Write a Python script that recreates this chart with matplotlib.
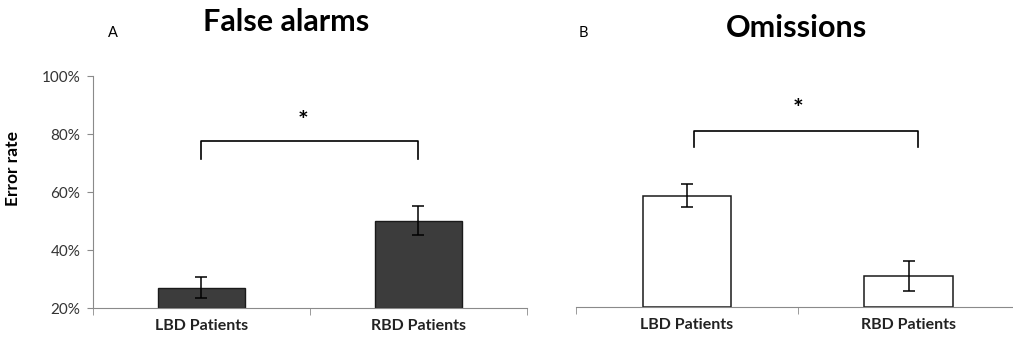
import numpy as np
import matplotlib
matplotlib.use('Agg')
import matplotlib.pyplot as plt

plt.rcParams['font.family'] = ['Lato', 'DejaVu Sans']

groups = ['LBD Patients', 'RBD Patients']
false_alarms = [27.1, 50.1]
false_alarms_err = [3.7, 5.0]
omissions = [58.4, 30.6]
omissions_err = [4.0, 5.2]
y_ticks = [20, 40, 60, 80, 100]

fig = plt.figure(figsize=(10.13, 3.45), dpi=100)
ax1 = fig.add_axes([0.0918, 0.107, 0.428, 0.672])
ax2 = fig.add_axes([0.5686, 0.110, 0.438, 0.672])

x = np.arange(len(groups))
gray = '#8a8a8a'


def style_axes(ax, show_y):
    ax.set_xlim(-0.5, 1.5)
    ax.set_ylim(20, 100)
    ax.set_xticks(x)
    ax.set_xticklabels(groups, fontsize=11.5, fontweight='bold', color='#222222')
    ax.set_xticks([-0.5, 0.5, 1.5], minor=True)
    ax.tick_params(axis='x', which='major', length=0, pad=8)
    ax.tick_params(axis='x', which='minor', length=5, color=gray, direction='out')
    for s in ['top', 'right']:
        ax.spines[s].set_visible(False)
    ax.spines['bottom'].set_color(gray)
    ax.spines['left'].set_color(gray)
    if show_y:
        ax.set_yticks(y_ticks)
        ax.set_yticklabels([f'{v}%' for v in y_ticks], fontsize=11, color='#333333')
        ax.tick_params(axis='y', length=4, color=gray, pad=5)
    else:
        ax.spines['left'].set_visible(False)
        ax.set_yticks([])


ax1.bar(x, np.array(false_alarms) - 20, bottom=20, width=0.4, color='#3c3c3c',
        edgecolor='#1a1a1a', linewidth=1, yerr=false_alarms_err,
        error_kw=dict(ecolor='black', capsize=4, elinewidth=1.1, capthick=1.1))
style_axes(ax1, True)
ax1.set_ylabel('Error rate', fontsize=12.5, fontweight='bold')
ax1.yaxis.set_label_coords(-0.165, 0.6)
ax1.plot([0, 0, 1, 1], [71.6, 77.6, 77.6, 71.6], color='black', lw=1.2, clip_on=False)
ax1.text(0.47, 84.5, '*', ha='center', va='center', fontsize=18, fontweight='bold')
fig.text(0.282, 0.935, 'False alarms', fontsize=22, fontweight='bold', ha='center', va='center')
fig.text(0.111, 0.905, 'A', fontsize=10.5, ha='center', va='center')

ax2.bar(x, np.array(omissions) - 20, bottom=20, width=0.4, color='white',
        edgecolor='#1a1a1a', linewidth=1.1, yerr=omissions_err,
        error_kw=dict(ecolor='black', capsize=4, elinewidth=1.1, capthick=1.1))
style_axes(ax2, False)
ax2.plot([0.03, 0.03, 1.04, 1.04], [75.4, 80.8, 80.8, 75.4], color='black', lw=1.2, clip_on=False)
ax2.text(0.5, 88, '*', ha='center', va='center', fontsize=18, fontweight='bold')
fig.text(0.786, 0.92, 'Omissions', fontsize=22, fontweight='bold', ha='center', va='center')
fig.text(0.576, 0.905, 'B', fontsize=10.5, ha='center', va='center')

fig.savefig('out.png', dpi=100)
